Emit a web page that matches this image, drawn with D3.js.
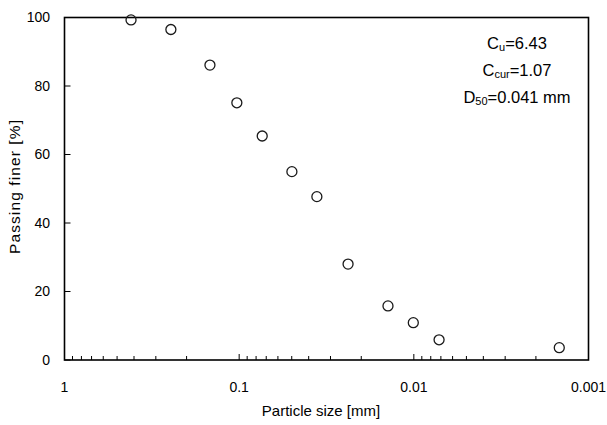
<!DOCTYPE html>
<html><head><meta charset="utf-8">
<script src="https://cdn.jsdelivr.net/npm/d3@7"></script>
<style>
html,body{margin:0;padding:0;background:#fff;}
text{font-family:"Liberation Sans",Arial,sans-serif;fill:#000;}
</style></head>
<body>
<svg id="c" width="607" height="425"></svg>
<script>
const particleSize = [0.416, 0.246, 0.147, 0.1031, 0.0738, 0.0499, 0.0359, 0.0238, 0.01406, 0.01007, 0.00717, 0.00147];
const passingFiner = [99.3, 96.5, 86.1, 75.1, 65.4, 55.0, 47.7, 28.0, 15.8, 10.9, 5.9, 3.6];
const xTickValues = [1, 0.1, 0.01, 0.001];
const xTickLabels = ["1", "0.1", "0.01", "0.001"];
const yTickValues = [0, 20, 40, 60, 80, 100];

const svg = d3.select("#c");
const L = 64.5, R = 588.5, T = 17.5, B = 360;
const x = d3.scaleLog().domain([1, 0.001]).range([L, R]);
const y = d3.scaleLinear().domain([0, 100]).range([B, T]);

// minor ticks
const minor = [];
for (let e = 0; e >= -3; e--) for (let m = 2; m <= 9; m++) { const v = m * Math.pow(10, e - 1); if (v >= 0.001 && v < 1) minor.push(v); }

const g = svg.append("g");
g.selectAll("line.minor").data(minor).join("line")
  .attr("x1", d => x(d)).attr("x2", d => x(d)).attr("y1", B).attr("y2", B - 4)
  .attr("stroke", "#000").attr("stroke-width", 1);
g.selectAll("line.major").data(xTickValues).join("line")
  .attr("x1", d => x(d)).attr("x2", d => x(d)).attr("y1", B).attr("y2", B - 6)
  .attr("stroke", "#000").attr("stroke-width", 1);
g.selectAll("text.xl").data(xTickValues).join("text")
  .attr("x", d => x(d)).attr("y", 392).attr("text-anchor", "middle")
  .attr("font-size", 14).text((d, i) => xTickLabels[i]);

g.selectAll("line.yt").data(yTickValues).join("line")
  .attr("x1", L).attr("x2", L + 6).attr("y1", d => y(d)).attr("y2", d => y(d))
  .attr("stroke", "#000").attr("stroke-width", 1);
g.selectAll("text.yl").data(yTickValues).join("text")
  .attr("x", 50).attr("y", d => y(d)).attr("dy", "0.35em").attr("text-anchor", "end")
  .attr("font-size", 14).text(d => d);

// frame
svg.append("rect").attr("x", L).attr("y", T).attr("width", R - L).attr("height", B - T)
  .attr("fill", "none").attr("stroke", "#000").attr("stroke-width", 1.6);

// points
svg.selectAll("circle").data(particleSize).join("circle")
  .attr("cx", d => x(d)).attr("cy", (d, i) => y(passingFiner[i])).attr("r", 5)
  .attr("fill", "none").attr("stroke", "#1a1a1a").attr("stroke-width", 1.3);

// titles
svg.append("text").attr("x", 321).attr("y", 416).attr("text-anchor", "middle")
  .attr("font-size", 15).text("Particle size [mm]");
svg.append("text").attr("transform", "translate(20,187) rotate(-90)").attr("text-anchor", "middle")
  .attr("font-size", 15.5).attr("textLength", 134).attr("lengthAdjust", "spacing")
  .text("Passing finer [%]");

// annotations
const ann = [
  {main: "C", sub: "u", rest: "=6.43", yy: 48.5},
  {main: "C", sub: "cur", rest: "=1.07", yy: 75.5},
  {main: "D", sub: "50", rest: "=0.041 mm", yy: 103}
];
ann.forEach(a => {
  const t = svg.append("text").attr("x", 517).attr("y", a.yy).attr("text-anchor", "middle").attr("font-size", 16.5);
  t.append("tspan").text(a.main);
  t.append("tspan").attr("font-size", 11).attr("dy", 2).text(a.sub);
  t.append("tspan").attr("dy", -2).text(a.rest);
});
</script>
</body></html>
